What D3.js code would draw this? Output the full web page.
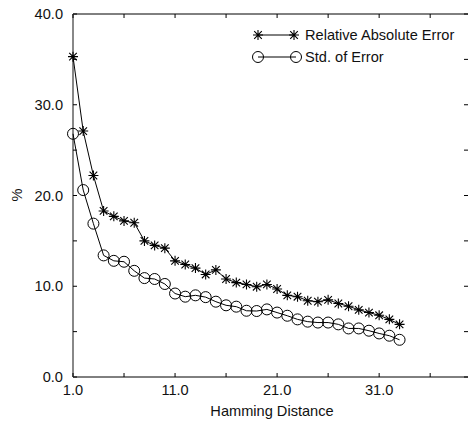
<!DOCTYPE html>
<html><head><meta charset="utf-8">
<script src="https://cdn.jsdelivr.net/npm/d3@7"></script>
<style>body{margin:0;background:#fff}svg{display:block}text{font-family:"Liberation Sans",Arial,sans-serif;fill:#111}</style>
</head><body><svg id="c" width="468" height="426"></svg>
<script>
const distances = d3.range(1, 34);
const relAbsError = [35.3,27.1,22.2,18.3,17.7,17.2,17.0,15.0,14.5,14.2,12.8,12.4,12.0,11.3,11.8,10.8,10.4,10.2,9.95,10.2,9.7,9.0,8.85,8.4,8.3,8.5,8.1,7.8,7.4,7.1,6.8,6.35,5.8];
const stdError = [26.8,20.6,16.9,13.4,12.8,12.7,11.7,10.9,10.8,10.25,9.2,8.85,9.0,8.8,8.3,7.9,7.75,7.3,7.27,7.45,7.1,6.75,6.35,6.1,6.0,6.0,5.8,5.35,5.35,5.1,4.8,4.55,4.1];
const xTickValues = [1,11,21,31];
const yTickValues = [0,10,20,30,40];
const seriesNames = ["Relative Absolute Error","Std. of Error"];

const svg = d3.select("#c");
const L=73, R=471, T=14, B=377;
const x = d3.scaleLinear().domain([1,40]).range([L,R]);
const y = d3.scaleLinear().domain([0,40]).range([B,T]);
const fmt = d3.format(".1f");
const FS = 14.6;

// frame
svg.append("line").attr("x1",L).attr("x2",R).attr("y1",T).attr("y2",T).attr("stroke","#000");
svg.append("line").attr("x1",L).attr("x2",R).attr("y1",B).attr("y2",B).attr("stroke","#000");
svg.append("line").attr("x1",R).attr("x2",R).attr("y1",T).attr("y2",B).attr("stroke","#000");
svg.append("line").attr("x1",L).attr("x2",L).attr("y1",T).attr("y2",B).attr("stroke","#888").attr("stroke-width",2);

const tk = 4;
const xMinor = d3.range(1,41,5), yMinor = d3.range(0,41,5);
xMinor.forEach(v=>{
  svg.append("line").attr("x1",x(v)).attr("x2",x(v)).attr("y1",B).attr("y2",B-tk).attr("stroke","#000");
  svg.append("line").attr("x1",x(v)).attr("x2",x(v)).attr("y1",T).attr("y2",T+tk).attr("stroke","#000");
});
yMinor.forEach(v=>{
  svg.append("line").attr("x1",L).attr("x2",L+tk).attr("y1",y(v)).attr("y2",y(v)).attr("stroke","#000");
  svg.append("line").attr("x1",R-tk-3).attr("x2",R).attr("y1",y(v)).attr("y2",y(v)).attr("stroke","#000");
});
xTickValues.forEach(v=>{
  svg.append("text").attr("x",x(v)).attr("y",B+18).attr("text-anchor","middle").attr("font-size",FS).text(fmt(v));
});
yTickValues.forEach(v=>{
  svg.append("text").attr("x",L-10).attr("y",y(v)+5).attr("text-anchor","end").attr("font-size",FS).text(fmt(v));
});
svg.append("text").attr("x",(L+R)/2).attr("y",416).attr("text-anchor","middle").attr("font-size",FS).text("Hamming Distance");
svg.append("text").attr("transform","translate(22,195) rotate(-90)").attr("text-anchor","middle").attr("font-size",FS).text("%");

const line = d3.line().x((d,i)=>x(distances[i])).y(d=>y(d));
svg.append("path").attr("d",line(relAbsError)).attr("fill","none").attr("stroke","#000");
svg.append("path").attr("d",line(stdError)).attr("fill","none").attr("stroke","#000");

function star(g,cx,cy){
  const s=5, d=3.8;
  const p=`M${cx-s},${cy}H${cx+s}M${cx},${cy-s}V${cy+s}M${cx-d},${cy-d}L${cx+d},${cy+d}M${cx-d},${cy+d}L${cx+d},${cy-d}`;
  g.append("path").attr("d",p).attr("stroke","#000").attr("stroke-width",1.1).attr("fill","none");
}
function circ(g,cx,cy){
  g.append("circle").attr("cx",cx).attr("cy",cy).attr("r",5.5).attr("fill","none").attr("stroke","#000");
}
const g = svg.append("g");
relAbsError.forEach((v,i)=>star(g,x(distances[i]),y(v)));
stdError.forEach((v,i)=>circ(g,x(distances[i]),y(v)));

// legend
const lg = svg.append("g");
const lx1=258, lx2=294, ly=[35,57];
lg.append("line").attr("x1",lx1).attr("x2",lx2).attr("y1",ly[0]).attr("y2",ly[0]).attr("stroke","#000");
star(lg,lx1,ly[0]); star(lg,lx2,ly[0]);
lg.append("line").attr("x1",lx1).attr("x2",lx2+2).attr("y1",ly[1]).attr("y2",ly[1]).attr("stroke","#000");
circ(lg,lx1,ly[1]); circ(lg,lx2+2,ly[1]);
seriesNames.forEach((n,i)=>lg.append("text").attr("x",305).attr("y",ly[i]+5).attr("font-size",FS).text(n));
</script></body></html>
